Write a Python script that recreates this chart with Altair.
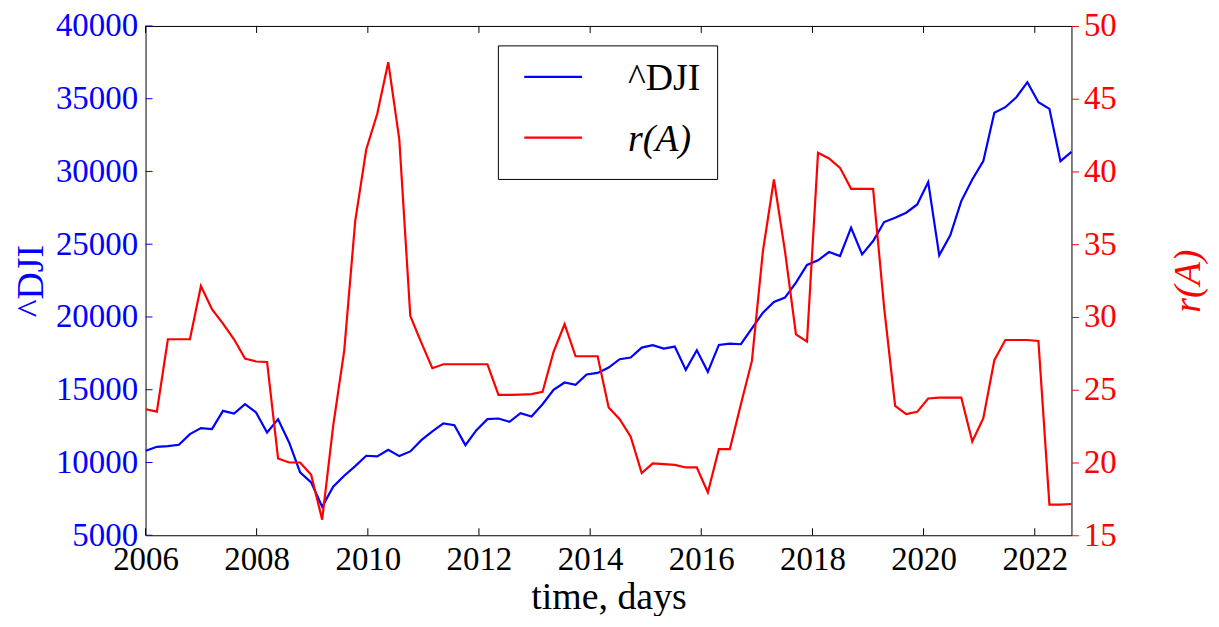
import altair as alt
import pandas as pd

# Dow Jones close and r(A), sampled every ~50 trading days, 2006 .. Aug 2022
dji = [10805, 11080, 11125, 11220, 11949, 12360, 12290, 13551, 13368, 14008,
       13436, 12063, 12978, 11376, 9318, 8631, 6961, 8334, 9089, 9753,
       10462, 10416, 10874, 10439, 10760, 11537, 12132, 12681, 12567, 11194,
       12223, 12978, 13024, 12795, 13390, 13162, 14008, 14992, 15496, 15336,
       16045, 16159, 16525, 17097, 17211, 17898, 18058, 17829, 17966, 16365,
       17715, 16228, 18081, 18172, 18127, 19225, 20300, 21032, 21330, 22360,
       23573, 23893, 24465, 24190, 26135, 24305, 25220, 26524, 26821, 27164,
       27736, 29269, 24236, 25608, 27965, 29452, 30711, 34028, 34417, 35104,
       36133, 34760, 34303, 30711, 31351]

r_a = [23.66, 23.5, 28.47, 28.47, 28.47, 32.13, 30.53, 29.55, 28.47, 27.14,
       26.94, 26.91, 20.28, 20.0, 20.0, 19.16, 16.07, 22.52, 27.67, 36.59,
       41.51, 43.96, 47.51, 42.2, 30.07, 28.24, 26.48, 26.75, 26.75, 26.75,
       26.75, 26.75, 24.65, 24.65, 24.67, 24.7, 24.85, 27.6, 29.5, 27.3,
       27.3, 27.3, 23.78, 22.98, 21.77, 19.27, 19.94, 19.89, 19.84, 19.66,
       19.66, 17.94, 20.92, 20.92, 24.0, 26.98, 34.53, 39.45, 34.53, 28.81,
       28.31, 41.28, 40.89, 40.25, 38.81, 38.81, 38.81, 30.64, 23.89, 23.32,
       23.48, 24.4, 24.46, 24.46, 24.46, 21.44, 23.04, 27.03, 28.42, 28.42,
       28.42, 28.35, 17.1, 17.1, 17.15]

dates = pd.date_range("2006-01-03", "2022-08-30", periods=len(dji))
years = [2006, 2008, 2010, 2012, 2014, 2016, 2018, 2020, 2022]
dji_ticks = [5000, 10000, 15000, 20000, 25000, 30000, 35000, 40000]
ra_ticks = [15, 20, 25, 30, 35, 40, 45, 50]
names = ["^DJI", "r(A)"]
colors = ["blue", "red"]

W, H = 929, 511
FONT = "Liberation Serif"

df = pd.DataFrame({"date": dates, "dji": dji, "ra": r_a})
year_df = pd.DataFrame({"date": pd.to_datetime([f"{y}-01-01" for y in years])})
dji_tick_df = pd.DataFrame({"dji": dji_ticks})
one = pd.DataFrame({"a": [0]})

x_scale = alt.Scale(domain=[alt.DateTime(year=2006, month=1, date=1),
                            alt.DateTime(year=2022, month=8, date=30)])
x_axis = alt.Axis(title="time, days", format="%Y",
                  values=[alt.DateTime(year=y) for y in years],
                  ticks=False, labelFlush=False, labelFont=FONT,
                  labelPadding=8, titlePadding=2)
left_scale = alt.Scale(domain=[5000, 40000])
left_axis = alt.Axis(title="^DJI", values=dji_ticks, format="d", ticks=False,
                     labelFont=FONT, labelFlush=False,
                     labelColor="blue", titleColor="blue", labelPadding=8,
                     titlePadding=5)

x_enc = alt.X("date:T", scale=x_scale, axis=x_axis)

dji_line = alt.Chart(df).mark_line(color="blue", strokeWidth=2.2).encode(
    x=x_enc, y=alt.Y("dji:Q", scale=left_scale, axis=left_axis))

# inward tick marks (matplotlib classic style)
bottom_ticks = alt.Chart(year_df).mark_rule(color="black").encode(
    x=x_enc, y=alt.value(H), y2=alt.value(H - 7))
top_ticks = alt.Chart(year_df).mark_rule(color="black").encode(
    x=x_enc, y=alt.value(0), y2=alt.value(7))
left_ticks = alt.Chart(dji_tick_df).mark_rule(color="blue").encode(
    y=alt.Y("dji:Q", scale=left_scale, axis=left_axis), x=alt.value(0), x2=alt.value(7))

left = alt.layer(dji_line, bottom_ticks, top_ticks, left_ticks)

ra_line = alt.Chart(df).mark_line(color="red", strokeWidth=2.2).encode(
    x=x_enc,
    y=alt.Y("ra:Q", scale=alt.Scale(domain=[15, 50]),
            axis=alt.Axis(title="r(A)", orient="right", values=ra_ticks,
                          labelFont=FONT, labelFlush=False,
                          tickColor="red", tickSize=7, labelColor="red",
                          titleColor="red", titleFontStyle="italic",
                          titleAngle=270, titleBaseline="top",
                          labelPadding=5, titlePadding=53))
)

# legend box drawn by hand, as matplotlib does it
box = alt.Chart(one).mark_rect(fill="white", stroke="black", strokeWidth=1).encode(
    x=alt.value(354), x2=alt.value(574), y=alt.value(20), y2=alt.value(154))
legend_parts = [box]
for i, (name, col) in enumerate(zip(names, colors)):
    yy = 51 + 61 * i
    legend_parts.append(alt.Chart(one).mark_rule(color=col, strokeWidth=2.2).encode(
        x=alt.value(380), x2=alt.value(438), y=alt.value(yy)))
    legend_parts.append(alt.Chart(one).mark_text(
        text=name, align="left", baseline="alphabetic", font=FONT, fontSize=38,
        fontStyle="italic" if i == 1 else "normal", color="black").encode(
        x=alt.value(484), y=alt.value(yy + 13)))

chart = alt.layer(left, ra_line, *legend_parts).resolve_scale(
    y="independent"
).properties(
    width=W, height=H, background="white",
    autosize=alt.AutoSizeParams(type="none"),
    padding={"left": 138, "top": 17, "right": 140, "bottom": 80}
).configure_view(
    stroke="black", strokeWidth=1
).configure_axis(
    grid=False, domain=False, labelFont=FONT, labelFontSize=33,
    titleFont=FONT, titleFontSize=38, titleFontWeight="normal",
    labelColor="black", titleColor="black"
)

chart.save("out.html", embed_options={"renderer": "svg", "actions": False})
